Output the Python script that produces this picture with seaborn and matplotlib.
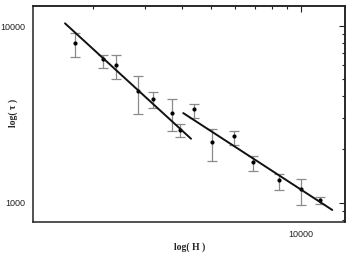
import numpy as np
import pandas as pd
import matplotlib
matplotlib.use("Agg")
import matplotlib.pyplot as plt
import matplotlib.ticker as mticker
import seaborn as sns

# measured points: H, tau, and the error bar ends
h_vals = [1744, 2161, 2389, 2844, 3195, 3681, 3926,
          4385, 5012, 5972, 6887, 8436, 10000, 11580]
tau_vals = [7975, 6469, 6000, 4273, 3881, 3234, 2565,
            3406, 2203, 2371, 1694, 1345, 1197, 1036]
tau_hi = [9125, 6840, 6840, 5220, 4234, 3848, 2773,
          3640, 2623, 2541, 1849, 1455, 1365, 1071]
tau_lo = [6670, 5796, 5000, 3162, 3452, 2541, 2350,
          3029, 1711, 2110, 1507, 1186, 970, 980]

# the two fitted power-law segments
fit1_h = [1615, 4276]
fit1_tau = [10360, 2301]
fit2_h = [4026, 12736]
fit2_tau = [3216, 909]

df = pd.DataFrame({"H": h_vals, "tau": tau_vals, "hi": tau_hi, "lo": tau_lo})
lines = pd.DataFrame({
    "H": fit1_h + fit2_h,
    "tau": fit1_tau + fit2_tau,
    "seg": ["a", "a", "b", "b"],
})

sns.set_style("white")
plt.rcParams["font.family"] = ["Liberation Sans", "DejaVu Sans"]

fig, ax = plt.subplots(figsize=(3.51, 2.57), dpi=100)
fig.subplots_adjust(left=33.3 / 351, right=345 / 351,
                    bottom=1 - 222.3 / 257, top=1 - 6 / 257)

yerr = np.array([df["tau"] - df["lo"], df["hi"] - df["tau"]])
ax.errorbar(df["H"], df["tau"], yerr=yerr, fmt="none", ecolor="#8a8a8a",
            elinewidth=0.9, capsize=3.5, capthick=0.9, zorder=2)
sns.scatterplot(data=df, x="H", y="tau", ax=ax, color="black", s=9,
                edgecolor="black", linewidth=0, zorder=3)
sns.lineplot(data=lines, x="H", y="tau", units="seg", estimator=None,
             ax=ax, color="#111111", linewidth=1.4, zorder=4)

ax.set_xscale("log")
ax.set_yscale("log")
ax.set_xlim(1264, 14050)
ax.set_ylim(774, 12990)

ax.xaxis.set_major_locator(mticker.FixedLocator([10000]))
ax.yaxis.set_major_locator(mticker.FixedLocator([1000, 10000]))
ax.xaxis.set_major_formatter(mticker.FuncFormatter(lambda v, p: f"{int(v)}"))
ax.yaxis.set_major_formatter(mticker.FuncFormatter(lambda v, p: f"{int(v)}"))
ax.xaxis.set_minor_locator(mticker.LogLocator(subs=np.arange(2, 10)))
ax.yaxis.set_minor_locator(mticker.LogLocator(subs=np.arange(2, 10)))
ax.xaxis.set_minor_formatter(mticker.NullFormatter())
ax.yaxis.set_minor_formatter(mticker.NullFormatter())

ax.tick_params(which="both", direction="out", top=False, right=False,
               labelsize=6.5, colors="#222222", width=0.8)
ax.tick_params(which="major", length=4, pad=1.5)
ax.tick_params(which="minor", length=2.5)

# inward ticks on top and right, via twin axes
for sp in ax.spines.values():
    sp.set_color("#222222")
    sp.set_linewidth(1.1)

axr = ax.secondary_yaxis("right")
axr.yaxis.set_major_locator(mticker.FixedLocator([1000, 10000]))
axr.yaxis.set_minor_locator(mticker.LogLocator(subs=np.arange(2, 10)))
axr.tick_params(which="both", direction="in", labelright=False, width=0.8,
                colors="#222222")
axr.tick_params(which="major", length=4)
axr.tick_params(which="minor", length=2.5)
axr.spines["right"].set_linewidth(1.1)
axr.spines["right"].set_color("#222222")

axt = ax.secondary_xaxis("top")
axt.xaxis.set_major_locator(mticker.FixedLocator([10000]))
axt.xaxis.set_minor_locator(mticker.LogLocator(subs=np.arange(2, 10)))
axt.tick_params(which="both", direction="in", labeltop=False, width=0.8,
                colors="#222222")
axt.tick_params(which="major", length=4)
axt.tick_params(which="minor", length=2.5)
axt.spines["top"].set_linewidth(1.1)
axt.spines["top"].set_color("#222222")

ax.set_xlabel("")
ax.set_ylabel("")
fig.text(190 / 351, 1 - 247 / 257, "log( H )", ha="center", va="center",
         fontsize=7, fontweight="bold", family="Liberation Serif")
fig.text(13 / 351, 1 - 113 / 257, "log( \u03c4 )", ha="center", va="center",
         rotation=90, fontsize=7, fontweight="bold", family="Liberation Serif")

fig.savefig("out.png", dpi=100)
